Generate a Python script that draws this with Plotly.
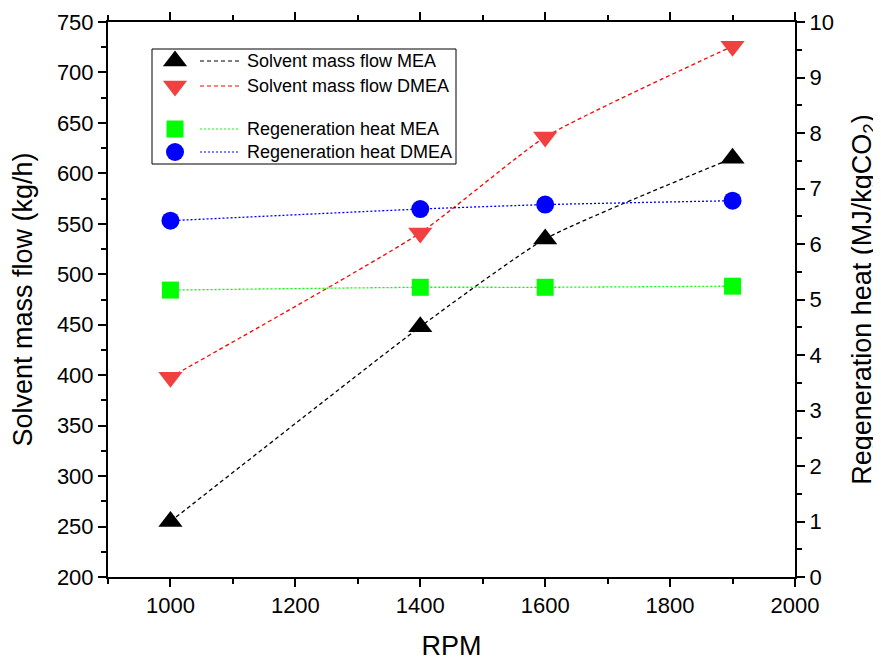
import plotly.graph_objects as go

rpm = [1000, 1400, 1600, 1900]
flow_mea = [255, 448, 535, 615]
flow_dmea = [398, 541, 636, 726]
heat_mea = [5.17, 5.22, 5.22, 5.24]
heat_dmea = [6.42, 6.63, 6.71, 6.78]

names = ["Solvent mass flow MEA", "Solvent mass flow DMEA",
         "Regeneration heat MEA", "Regeneration heat DMEA"]

FONT = "Liberation Sans, Arial, sans-serif"

styles = [
    dict(symbol="triangle-up", msize=21, mcolor="#000000", lcolor="#000000", dash="4px,3px"),
    dict(symbol="triangle-down", msize=21, mcolor="#f04040", lcolor="#ff0000", dash="4px,3px"),
    dict(symbol="square", msize=17, mcolor="#00ff00", lcolor="#00ff00", dash="2px,2px"),
    dict(symbol="circle", msize=18, mcolor="#0000ff", lcolor="#0000ff", dash="2px,2px"),
]

series = [(flow_mea, "y"), (flow_dmea, "y"), (heat_mea, "y2"), (heat_dmea, "y2")]

fig = go.Figure()
for (vals, ax), st, nm in zip(series, styles, names):
    fig.add_trace(go.Scatter(
        x=rpm, y=vals, yaxis=ax, name=nm, mode="lines",
        line=dict(color=st["lcolor"], dash=st["dash"], width=1.3, shape="spline", smoothing=0.5),
        showlegend=False, hoverinfo="skip"))
for (vals, ax), st, nm in zip(series, styles, names):
    fig.add_trace(go.Scatter(
        x=rpm, y=vals, yaxis=ax, name=nm, mode="markers",
        marker=dict(symbol=st["symbol"], size=st["msize"], color=st["mcolor"],
                    line=dict(width=0)),
        showlegend=False))

# custom legend on a pixel-coordinate overlay axis pair
leg_rows = [61, 86, 129, 152]
for st, nm, yy in zip(styles, names, leg_rows):
    fig.add_trace(go.Scatter(
        x=[175], y=[yy], xaxis="x3", yaxis="y3", mode="markers",
        marker=dict(symbol=st["symbol"], size=st["msize"], color=st["mcolor"], line=dict(width=0)),
        showlegend=False, hoverinfo="skip"))
    fig.add_trace(go.Scatter(
        x=[200, 240], y=[yy, yy], xaxis="x3", yaxis="y3", mode="lines",
        line=dict(color=st["lcolor"], dash=st["dash"], width=1),
        showlegend=False, hoverinfo="skip"))
    fig.add_annotation(x=245, y=yy, xref="x3", yref="y3", text=nm, showarrow=False,
                       xanchor="left", yanchor="middle",
                       font=dict(family=FONT, size=18, color="#000000"))

fig.add_shape(type="rect", xref="x3", yref="y3", x0=152, x1=456, y0=49, y1=164,
              line=dict(color="#000000", width=1), fillcolor="rgba(0,0,0,0)")

tickfont = dict(family=FONT, size=22, color="#000000")
axis_common = dict(showgrid=False, zeroline=False, showline=True, linecolor="#000000",
                   linewidth=2, ticks="outside", ticklen=8, tickwidth=2, tickcolor="#000000",
                   tickfont=tickfont, automargin=False)
minor_common = dict(ticks="outside", ticklen=5, tickwidth=2, tickcolor="#000000")

fig.update_layout(
    width=881, height=662,
    margin=dict(l=100, r=94, t=14, b=93),
    paper_bgcolor="white", plot_bgcolor="white",
    font=dict(family=FONT, color="#000000"),
    xaxis=dict(range=[900, 2000], dtick=200, tick0=1000, mirror="ticks",
               minor=dict(dtick=100, tick0=900, **minor_common),
               title=dict(text="RPM", font=dict(family=FONT, size=27), standoff=19),
               **axis_common),
    yaxis=dict(range=[200, 750], dtick=50,
               minor=dict(dtick=25, **minor_common),
               title=dict(text="Solvent mass flow (kg/h)", font=dict(family=FONT, size=27), standoff=16),
               **axis_common),
    yaxis2=dict(range=[0, 10], dtick=1, overlaying="y", side="right",
                minor=dict(dtick=0.5, **minor_common),
                title=dict(text="Regeneration heat (MJ/kgCO<sub>2</sub>)", font=dict(family=FONT, size=27), standoff=19),
                **axis_common),
    xaxis3=dict(range=[108, 795], overlaying="x", visible=False, fixedrange=True),
    yaxis3=dict(range=[577, 22], overlaying="y", visible=False, fixedrange=True),
    showlegend=False,
)

fig.write_html("out.html")
